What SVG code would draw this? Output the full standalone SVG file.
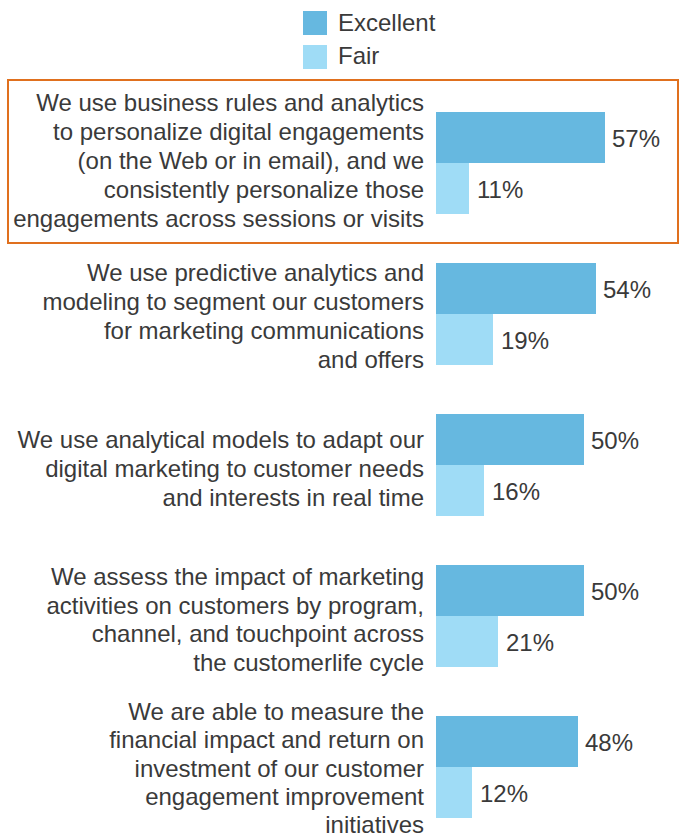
<svg xmlns="http://www.w3.org/2000/svg" width="680" height="835" viewBox="0 0 680 835">
<style>
text{font-family:"Liberation Sans",Arial,sans-serif;font-size:24px;fill:#3a3a3a}
.lbl{text-anchor:end}
.ex{fill:#66b8e0}
.fa{fill:#9fdcf6}
</style>
<rect width="680" height="835" fill="#fff"/>
<g id="legend">
<rect class="ex" x="303" y="11" width="24" height="24"/>
<text x="338" y="31">Excellent</text>
<rect class="fa" x="303" y="45" width="24" height="24"/>
<text x="338" y="64">Fair</text>
</g>
<rect x="8" y="80" width="670" height="163" fill="none" stroke="#e0701e" stroke-width="2"/>
<g id="item1">
<text class="lbl" x="424" y="111">We use business rules and analytics</text>
<text class="lbl" x="424" y="140">to personalize digital engagements</text>
<text class="lbl" x="424" y="169">(on the Web or in email), and we</text>
<text class="lbl" x="424" y="198">consistently personalize those</text>
<text class="lbl" x="424" y="227">engagements across sessions or visits</text>
<rect class="ex" x="436" y="112" width="169" height="51"/>
<rect class="fa" x="436" y="163" width="33" height="51"/>
<text x="612" y="147">57%</text>
<text x="477" y="198">11%</text>
</g>
<g id="item2">
<text class="lbl" x="424" y="281">We use predictive analytics and</text>
<text class="lbl" x="424" y="310">modeling to segment our customers</text>
<text class="lbl" x="424" y="339">for marketing communications</text>
<text class="lbl" x="424" y="368">and offers</text>
<rect class="ex" x="436" y="263" width="160" height="51"/>
<rect class="fa" x="436" y="314" width="57" height="51"/>
<text x="603" y="298">54%</text>
<text x="501" y="349">19%</text>
</g>
<g id="item3">
<text class="lbl" x="424" y="448">We use analytical models to adapt our</text>
<text class="lbl" x="424" y="477">digital marketing to customer needs</text>
<text class="lbl" x="424" y="506">and interests in real time</text>
<rect class="ex" x="436" y="414" width="148" height="51"/>
<rect class="fa" x="436" y="465" width="48" height="51"/>
<text x="591" y="449">50%</text>
<text x="492" y="500">16%</text>
</g>
<g id="item4">
<text class="lbl" x="424" y="585">We assess the impact of marketing</text>
<text class="lbl" x="424" y="614">activities on customers by program,</text>
<text class="lbl" x="424" y="642">channel, and touchpoint across</text>
<text class="lbl" x="424" y="671">the customerlife cycle</text>
<rect class="ex" x="436" y="565" width="148" height="51"/>
<rect class="fa" x="436" y="616" width="62" height="51"/>
<text x="591" y="600">50%</text>
<text x="506" y="651">21%</text>
</g>
<g id="item5">
<text class="lbl" x="424" y="720">We are able to measure the</text>
<text class="lbl" x="424" y="748">financial impact and return on</text>
<text class="lbl" x="424" y="777">investment of our customer</text>
<text class="lbl" x="424" y="805">engagement improvement</text>
<text class="lbl" x="424" y="833">initiatives</text>
<rect class="ex" x="436" y="716" width="142" height="51"/>
<rect class="fa" x="436" y="767" width="36" height="51"/>
<text x="585" y="751">48%</text>
<text x="480" y="802">12%</text>
</g>
</svg>
